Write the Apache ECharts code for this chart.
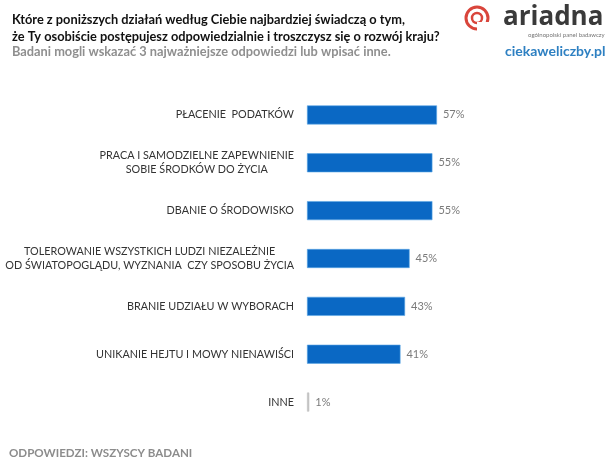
<!DOCTYPE html>
<html><head><meta charset="utf-8">
<script src="https://cdn.jsdelivr.net/npm/echarts@6/dist/echarts.min.js"></script>
<style>html,body{margin:0;padding:0;background:#fff}#c{width:616px;height:462px}</style>
</head><body><div id="c"></div>
<script>
const categories = [
  "PŁACENIE  PODATKÓW",
  "PRACA I SAMODZIELNE ZAPEWNIENIE\nSOBIE ŚRODKÓW DO ŻYCIA",
  "DBANIE O ŚRODOWISKO",
  "TOLEROWANIE WSZYSTKICH LUDZI NIEZALEŻNIE\nOD ŚWIATOPOGLĄDU, WYZNANIA  CZY SPOSOBU ŻYCIA",
  "BRANIE UDZIAŁU W WYBORACH",
  "UNIKANIE HEJTU I MOWY NIENAWIŚCI",
  "INNE"
];
const values = [57, 55, 55, 45, 43, 41, 1];
const highlightOther = "INNE";

const chart = echarts.init(document.getElementById('c'));
const FONT = 'Lato, "Open Sans", sans-serif';
chart.setOption({
  animation: false,
  backgroundColor: '#fff',
  textStyle: { fontFamily: FONT },
  title: [
    { text: 'Które z poniższych działań według Ciebie najbardziej świadczą o tym,\nże Ty osobiście postępujesz odpowiedzialnie i troszczysz się o rozwój kraju?',
      left: 7, top: 6, textStyle: { fontFamily: FONT, fontSize: 12.8, fontWeight: 'bold', color: '#111', lineHeight: 17 } },
    { text: 'Badani mogli wskazać 3 najważniejsze odpowiedzi lub wpisać inne.',
      left: 7, top: 40, textStyle: { fontFamily: FONT, fontSize: 12.8, fontWeight: 'bold', color: '#8f8f8f' } },
    { text: 'ODPOWIEDZI: WSZYSCY BADANI',
      left: 4, top: 442, textStyle: { fontFamily: FONT, fontSize: 11.6, fontWeight: 'bold', color: '#8c8c8c' } }
  ],
  graphic: [
    { type: 'circle', shape: { cx: 477, cy: 18, r: 11 }, style: { fill: 'none', stroke: '#d9453b', lineWidth: 3 } },
    { type: 'circle', shape: { cx: 477, cy: 18, r: 5 }, style: { fill: 'none', stroke: '#d9453b', lineWidth: 2.5 } },
    { type: 'rect', shape: { x: 477, y: 22, width: 13, height: 9 }, style: { fill: '#fff' } },
    { type: 'text', left: 503, top: 5, style: { text: 'ariadna', font: 'bold 26px "Open Sans", Lato, sans-serif', fill: '#3a3a3a' } },
    { type: 'text', left: 528, top: 32, style: { text: 'ogólnopolski panel badawczy', font: '6px Lato, sans-serif', fill: '#777' } },
    { type: 'text', left: 505, top: 44, style: { text: 'ciekaweliczby.pl', font: 'bold 14px Lato, sans-serif', fill: '#2e80c2' } }
  ],
  grid: { left: 307, right: 81, top: 91, bottom: 36, containLabel: false },
  xAxis: { type: 'value', min: 0, max: 100, show: false },
  yAxis: {
    type: 'category', inverse: true, data: categories,
    axisLine: { show: false }, axisTick: { show: false },
    axisLabel: {
      margin: 13, color: '#333', fontSize: 10.8, fontFamily: FONT, lineHeight: 14,
      formatter: v => v.split('\n').map(l => '{c|' + l + '}').join('\n'),
      rich: { c: { align: 'center', fontSize: 10.8, color: '#333', fontFamily: FONT, lineHeight: 14 } }
    }
  },
  series: [{
    type: 'bar', barWidth: 19,
    data: values.map((v, i) => ({ value: v, itemStyle: { color: categories[i] === highlightOther ? '#c2c2c2' : '#0a68c4', borderColor: categories[i] === highlightOther ? '#c2c2c2' : '#5aa6e6', borderWidth: 0.6 } })),
    label: { show: true, position: 'right', distance: 6, formatter: p => p.value + '%', color: '#7a7a7a', fontSize: 11, fontFamily: FONT }
  }]
});
</script></body></html>
